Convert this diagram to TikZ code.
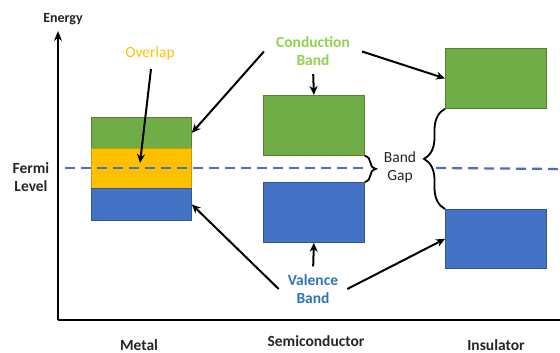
\documentclass[tikz,border=0pt]{standalone}
\usepackage{fontspec}
\setmainfont{Carlito}
\usetikzlibrary{arrows.meta,decorations.pathreplacing,calc}
\definecolor{bgreen}{HTML}{70AD47}
\definecolor{bgreenb}{HTML}{548235}
\definecolor{byellow}{HTML}{FFC000}
\definecolor{bblue}{HTML}{4472C4}
\definecolor{bblueb}{HTML}{2F5597}
\definecolor{lgreen}{HTML}{92D050}
\definecolor{vblue}{HTML}{2E75B6}
\definecolor{gtext}{HTML}{262626}
\tikzset{
  band/.style={draw, line width=0.8pt, inner sep=0pt, anchor=north west},
  gband/.style={band, fill=bgreen, draw=bgreenb},
  yband/.style={band, fill=byellow, draw=byellow!80!black},
  vband/.style={band, fill=bblue, draw=bblueb},
  lbl/.style={font=\fontsize{15.5}{17}\selectfont\bfseries, align=center, text=gtext, inner sep=0pt},
  arr/.style={line width=2pt, -{Stealth[length=9pt,width=8pt]}},
  gapbrace/.style={line width=1.8pt, decorate},
  fermiline/.style={bblue, line width=2.2pt, dash pattern=on 10pt off 6pt}
}
\begin{document}
\begin{tikzpicture}[x=1pt,y=-1pt]
\useasboundingbox (0,0) rectangle (560,353);
% axes
\coordinate (origin) at (58,320);
\coordinate (ytop) at (58,31);
\coordinate (xend) at (560,320);
\draw[line width=2.2pt, -{Stealth[length=10pt,width=8pt]}] (origin) -- (ytop);
\draw[line width=2.2pt] (origin) -- (xend);
\node[lbl, font=\fontsize{14}{16}\selectfont\bfseries] (energy) at (63,19) {Energy};
\node[lbl] (fermi) at (31,177) {Fermi\\[1pt]Level};
% metal
\node[gband, minimum width=100pt, minimum height=31pt] (mg) at (91,117) {};
\node[yband, minimum width=100pt, minimum height=40pt] (my) at (91,148) {};
\node[vband, minimum width=100pt, minimum height=32pt] (mb) at (91,188) {};
% semiconductor
\node[gband, minimum width=101pt, minimum height=60pt] (sg) at (263,95) {};
\node[vband, minimum width=101pt, minimum height=60pt] (sb) at (263,182) {};
% insulator
\node[gband, minimum width=101pt, minimum height=60pt] (ig) at (445,48) {};
\node[vband, minimum width=101pt, minimum height=59pt] (ib) at (445,209) {};
% fermi level
\coordinate (fl0) at (65,168);
\coordinate (fl1) at (363,168);
\coordinate (fl2) at (436,168);
\coordinate (fl3) at (560,169);
\draw[fermiline] (fl0) -- (fl1);
\draw[fermiline] (fl2) -- (fl3);
% labels
\node[lbl, text=byellow, font=\fontsize{15.5}{17}\selectfont] (ov) at (150,53) {Overlap};
\node[lbl, text=lgreen, inner xsep=12pt, inner ysep=2pt] (cb) at (313,51.5) {Conduction\\[1pt]Band};
\node[lbl, text=vblue, inner xsep=9pt, inner ysep=2pt] (vb) at (313,289) {Valence\\[1pt]Band};
\node[lbl, font=\fontsize{15.5}{17}\selectfont] (gap) at (400,167.5) {Band\\[1pt]Gap};
\node[lbl] (metal) at (139,345) {Metal};
\node[lbl] (semi) at (316,341) {Semiconductor};
\node[lbl] (ins) at (496,345) {Insulator};
% arrows
\coordinate (ovtip) at (140,163);
\coordinate (ovstart) at (151,69);
\draw[arr] (ovstart) -- (ovtip);
\draw[arr] (cb.west) -- (mg.east);
\draw[arr] (cb.east) -- (ig.west);
\draw[arr, shorten <=6pt] (cb.south) -- (sg.north);
\draw[arr] (vb.west) -- (mb.east);
\draw[arr] (vb.east) -- (ib.west);
\draw[arr, shorten <=6pt] (vb.north) -- (sb.south);
% braces
\draw[gapbrace, decoration={brace, amplitude=11pt}] (sg.south east) -- (sb.north east);
\draw[gapbrace, decoration={brace, amplitude=21pt}] (ib.north west) -- (ig.south west);
\end{tikzpicture}
\end{document}
